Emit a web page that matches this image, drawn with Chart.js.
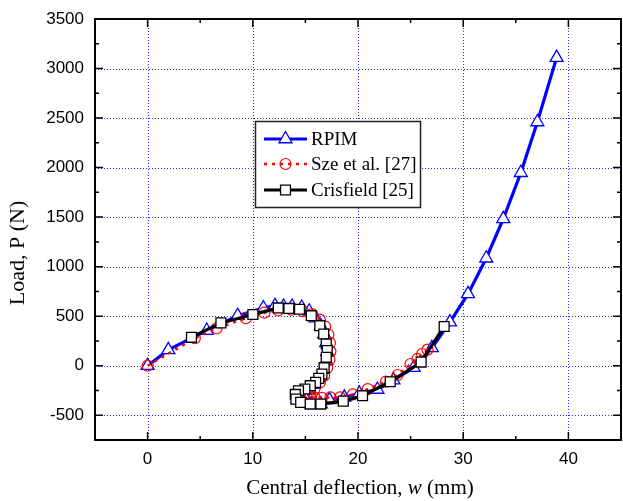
<!DOCTYPE html>
<html><head><meta charset="utf-8">
<script src="https://cdn.jsdelivr.net/npm/chart.js@4.4.0/dist/chart.umd.min.js"></script>
<style>html,body{margin:0;padding:0;background:#fff}#wrap{width:623px;height:501px}</style>
</head><body><div id="wrap"><canvas id="c" width="623" height="501"></canvas></div>
<script>
// ---- data ----
const rpimW = [0, 1.97, 5.62, 8.56, 11.0, 12.11, 12.92, 13.74, 14.65, 15.36, 15.97, 16.47, 16.78, 16.98, 17.08, 16.98, 16.68, 16.27, 15.76, 15.26, 14.85, 14.65, 14.85, 15.56, 16.47, 17.28, 18.7, 20.12, 21.85, 23.37, 25.29, 27.02, 28.74, 30.46, 32.19, 33.81, 35.48, 37.05, 38.88];
const rpimP = [0, 160, 355, 505, 583, 606, 598, 598, 588, 550, 480, 400, 320, 230, 140, 50, -40, -120, -190, -250, -300, -345, -375, -388, -388, -345, -320, -280, -240, -145, -20, 180, 440, 725, 1085, 1483, 1948, 2460, 3110];
const szeW = [0, 4.49, 6.56, 9.35, 11.1, 12.42, 13.63, 14.75, 15.66, 16.37, 16.88, 17.18, 17.33, 17.38, 17.28, 17.08, 16.78, 16.37, 15.86, 15.46, 15.46, 15.86, 16.57, 17.38, 18.3, 19.51, 20.93, 22.66, 23.77, 24.99, 25.65, 26.1, 26.61];
const szeP = [0, 277, 378, 479, 535, 560, 565, 550, 520, 465, 395, 315, 230, 145, 60, -20, -100, -170, -235, -280, -305, -320, -325, -320, -320, -290, -236, -160, -94, 17, 68, 118, 162];
const crisW = [4.17, 6.97, 10.01, 12.42, 13.43, 14.44, 15.56, 16.37, 16.74, 16.98, 17.08, 16.98, 16.78, 16.57, 16.27, 15.97, 15.46, 14.95, 14.34, 14.04, 14.1, 14.55, 15.46, 16.47, 18.6, 20.43, 23.06, 26.0, 28.19];
const crisP = [287, 432, 517, 583, 578, 570, 505, 404, 320, 219, 152, 85, -20, -84, -128, -168, -202, -235, -253, -290, -337, -370, -387, -387, -358, -303, -162, 37, 396];
const seriesLabels = ['RPIM', 'Sze et al. [27]', 'Crisfield [25]'];
const xTickLabels = ['0', '10', '20', '30', '40'];
const yTickLabels = ['-500', '0', '500', '1000', '1500', '2000', '2500', '3000', '3500'];
const xTitleParts = ['Central deflection, ', 'w', ' (mm)'];
const yTitle = 'Load, P (N)';

const xMajor = xTickLabels.map(Number);
const yMajor = yTickLabels.map(Number);
const xAll = []; for (let v = -5; v <= 45; v += 5) xAll.push(v);
const yAll = []; for (let v = -750; v <= 3500; v += 250) yAll.push(v);

const pts = (xs, ys) => xs.map((v, i) => ({x: v, y: ys[i]}));
const gridColor = 'rgba(20,20,255,0.9)';

const decor = {
  id: 'decor',
  beforeDatasetsDraw(chart) {
    const {ctx, chartArea: a, scales: {x, y}} = chart;
    ctx.save();
    ctx.strokeStyle = gridColor; ctx.lineWidth = 1; ctx.setLineDash([1, 2]);
    ctx.beginPath();
    for (const v of xMajor) { const p = Math.round(x.getPixelForValue(v)) + 0.5; ctx.moveTo(p, a.top); ctx.lineTo(p, a.bottom); }
    for (const v of yMajor) { if (v >= 3500) continue; const p = Math.round(y.getPixelForValue(v)) + 0.5; ctx.moveTo(a.left, p); ctx.lineTo(a.right, p); }
    ctx.stroke();
    ctx.restore();
  },
  afterDraw(chart) {
    const {ctx, chartArea: a, scales: {x, y}} = chart;
    ctx.save();
    // frame
    ctx.strokeStyle = '#000'; ctx.lineWidth = 2; ctx.setLineDash([]);
    ctx.strokeRect(a.left, a.top, a.right - a.left, a.bottom - a.top);
    ctx.lineWidth = 1.5;
    ctx.beginPath();
    for (const v of xAll) {
      const p = x.getPixelForValue(v); if (p <= a.left + 1 || p >= a.right - 1) continue;
      const L = (v % 10 === 0) ? 8 : 4;
      ctx.moveTo(p, a.bottom); ctx.lineTo(p, a.bottom - L);
      ctx.moveTo(p, a.top); ctx.lineTo(p, a.top + L);
    }
    for (const v of yAll) {
      const p = y.getPixelForValue(v); if (p <= a.top + 1 || p >= a.bottom - 1) continue;
      const L = (v % 500 === 0) ? 8 : 4;
      ctx.moveTo(a.left, p); ctx.lineTo(a.left + L, p);
      ctx.moveTo(a.right, p); ctx.lineTo(a.right - L, p);
    }
    ctx.stroke();
    // legend
    const bx = 255.5, by = 121.5, bw = 165, bh = 86;
    ctx.fillStyle = '#fff'; ctx.fillRect(bx, by, bw, bh);
    ctx.strokeStyle = '#222'; ctx.lineWidth = 1.5; ctx.strokeRect(bx, by, bw, bh);
    const rows = [139, 164, 190];
    chart.data.datasets.forEach((ds, i) => {
      const ry = rows[i];
      ctx.save();
      ctx.strokeStyle = ds.borderColor; ctx.lineWidth = ds.borderWidth;
      ctx.setLineDash(ds.borderDash || []);
      ctx.beginPath(); ctx.moveTo(264, ry); ctx.lineTo(307, ry); ctx.stroke();
      ctx.setLineDash([]);
      ctx.fillStyle = ds.pointBackgroundColor; ctx.strokeStyle = ds.pointBorderColor; ctx.lineWidth = ds.pointBorderWidth;
      Chart.helpers.drawPoint(ctx, {pointStyle: ds.pointStyle, radius: ds.pointRadius, rotation: 0, borderWidth: ds.pointBorderWidth}, 285.5, ry);
      ctx.restore();
      ctx.fillStyle = '#000'; ctx.font = '19px "Liberation Serif"'; ctx.textBaseline = 'middle'; ctx.textAlign = 'left';
      ctx.fillText(ds.label, 311, ry + 1);
    });
    // x title
    const fN = '21px "Liberation Serif"', fI = 'italic 21px "Liberation Serif"';
    ctx.textBaseline = 'alphabetic'; ctx.textAlign = 'left'; ctx.fillStyle = '#000';
    const fonts = [fN, fI, fN];
    let tw = 0; const ws = xTitleParts.map((t, i) => { ctx.font = fonts[i]; const w = ctx.measureText(t).width; tw += w; return w; });
    let cx = 360 - tw / 2;
    xTitleParts.forEach((t, i) => { ctx.font = fonts[i]; ctx.fillText(t, cx, 494); cx += ws[i]; });
    // y title
    ctx.save();
    ctx.translate(24, 253); ctx.rotate(-Math.PI / 2);
    ctx.font = '22px "Liberation Serif"'; ctx.textAlign = 'center'; ctx.textBaseline = 'alphabetic';
    ctx.fillText(yTitle, 0, 0);
    ctx.restore();
    ctx.restore();
  }
};

new Chart(document.getElementById('c'), {
  type: 'scatter',
  data: {
    datasets: [
      {label: seriesLabels[0], data: pts(rpimW, rpimP), showLine: true, borderColor: '#0000ff', borderWidth: 3.2,
       pointStyle: 'triangle', pointRadius: 7.5, pointBackgroundColor: '#fff', pointBorderColor: '#0000ff', pointBorderWidth: 1.3, order: 3},
      {label: seriesLabels[1], data: pts(szeW, szeP), showLine: true, borderColor: '#ff0000', borderWidth: 2.5, borderDash: [3, 5],
       pointStyle: 'circle', pointRadius: 5.5, pointBackgroundColor: 'rgba(0,0,0,0)', pointBorderColor: '#ff0000', pointBorderWidth: 1.2, order: 2},
      {label: seriesLabels[2], data: pts(crisW, crisP), showLine: true, borderColor: '#000000', borderWidth: 3.2,
       pointStyle: 'rect', pointRadius: 7, pointBackgroundColor: '#fff', pointBorderColor: '#000', pointBorderWidth: 1.3, order: 1}
    ]
  },
  options: {
    responsive: false, devicePixelRatio: 1, animation: false,
    layout: {autoPadding: false, padding: {top: 19, right: 2, left: 0, bottom: 0}},
    plugins: {legend: {display: false}, tooltip: {enabled: false}},
    elements: {line: {tension: 0}},
    scales: {
      x: {type: 'linear', min: -5, max: 45,
          afterBuildTicks: s => { s.ticks = xAll.map(v => ({value: v})); },
          afterFit: s => { s.height = 61; s.paddingLeft = 0; s.paddingRight = 0; },
          grid: {display: false, drawTicks: false}, border: {display: false},
          ticks: {autoSkip: false, maxRotation: 0, padding: 9, color: '#000', font: {family: '"Liberation Sans"', size: 17},
                  callback: v => { const i = xMajor.indexOf(v); return i >= 0 ? xTickLabels[i] : ''; }}},
      y: {type: 'linear', min: -750, max: 3500,
          afterBuildTicks: s => { s.ticks = yAll.map(v => ({value: v})); },
          afterFit: s => { s.width = 95; s.paddingTop = 0; s.paddingBottom = 0; },
          grid: {display: false, drawTicks: false}, border: {display: false},
          ticks: {autoSkip: false, padding: 11, color: '#000', font: {family: '"Liberation Sans"', size: 17},
                  callback: v => { const i = yMajor.indexOf(v); return i >= 0 ? yTickLabels[i] : ''; }}}
    }
  },
  plugins: [decor]
});
</script></body></html>
